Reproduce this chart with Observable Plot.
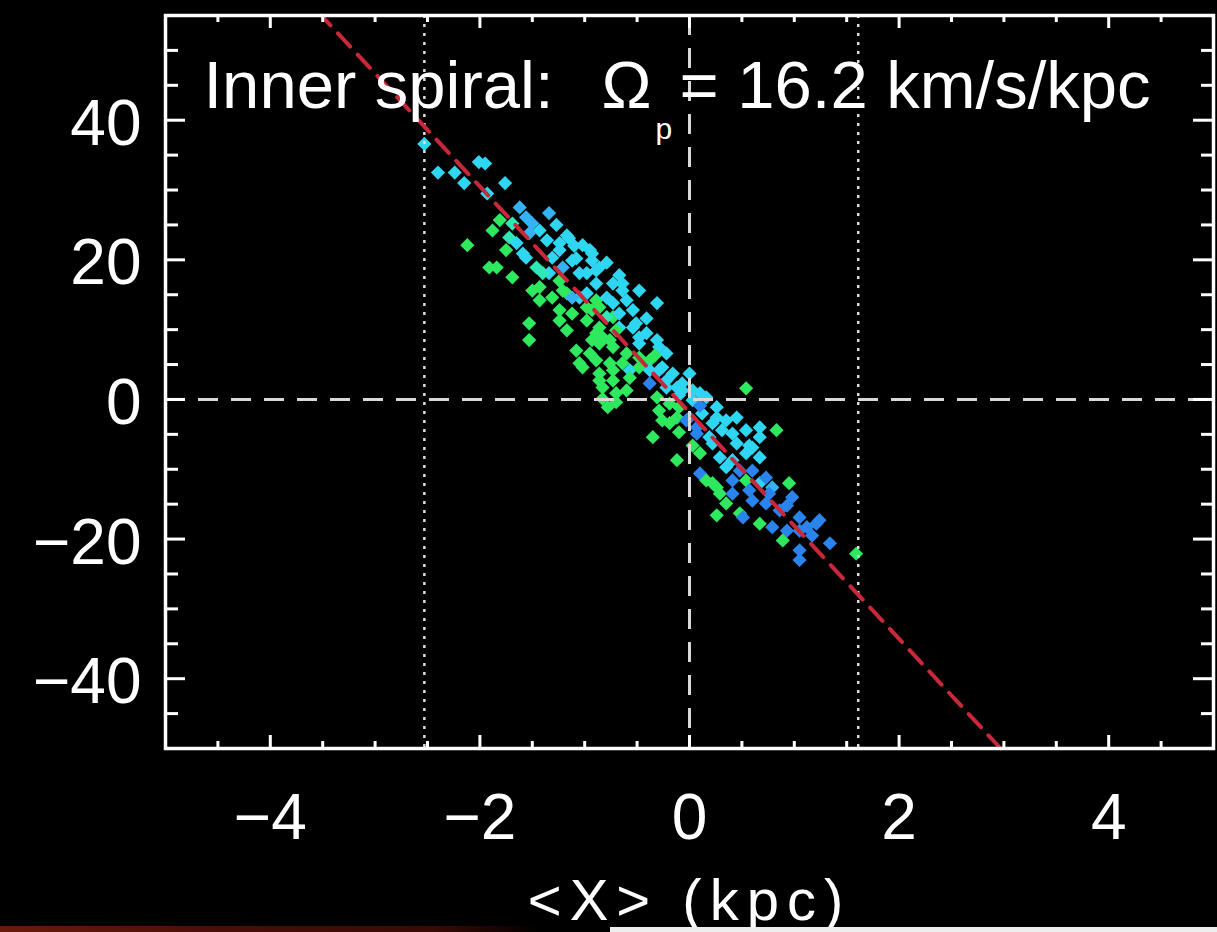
<!DOCTYPE html>
<html>
<head>
<meta charset="utf-8">
<script src="https://cdn.jsdelivr.net/npm/d3@7"></script>
<script src="https://cdn.jsdelivr.net/npm/@observablehq/plot@0.6"></script>
<style>
html, body { margin: 0; padding: 0; background: #000; overflow: hidden; }
#chart { position: relative; width: 1217px; height: 932px; }
.artifact { position: absolute; }
</style>
</head>
<body>
<div id="chart"></div>
<script>
// ---- data ----
const xs = [
  -2.53, -2.40, -2.24, -2.15, -2.01, -1.95, -1.76, -1.93, -1.62, -1.34,
  -1.56, -1.50, -1.81, -1.88, -2.12, -1.72, -1.75, -1.65, -1.43, -1.36,
  -1.24, -1.56, -1.91, -1.84, -1.69, -1.46, -1.34, -1.21, -1.12, -0.93,
  -0.98, -0.86, -0.73, -0.64, -0.31, -1.43, -1.31, -1.17, -1.05, -0.98,
  -0.86, -0.73, -0.60, -1.53, -1.53, -1.12, -0.98, -0.86, -0.73, -0.67,
  -0.54, -0.41, -0.29, -1.08, -0.95, -0.86, -0.73, -0.60, -1.02, -0.86,
  -0.73, -0.57, -0.38, -0.48, -0.29, -0.16, -0.83, -0.60, -0.22, 0.00,
  -0.93, -0.83, -0.48, -0.31, -0.33, -0.38, -1.05, -0.57, -0.26, -0.70,
  -0.83, -0.70, -0.22, -0.12, 0.03, 0.54, -0.31, -0.19, -0.29, -0.12,
  0.03, 0.16, 0.26, 0.12, -0.03, -0.19, 0.07, 0.22, 0.35, 0.41,
  0.54, 0.67, 0.83, -0.35, -0.12, 0.10, 0.10, 0.22, 0.29, 0.41,
  0.54, 0.67, 0.16, 0.26, 0.41, 0.54, 0.67, 0.79, 0.95, 0.35,
  0.26, 0.48, 0.60, 0.73, 0.86, 0.98, 1.05, 1.12, 0.67, 0.79,
  0.93, 1.24, 1.34, 0.89, 1.05, 1.05, 1.59, 0.76, 1.21, 1.05,
  0.51, 0.22, 0.29, 0.41, 0.57, 0.60, 0.73, -1.69, -1.53, -1.59,
  -1.24, -1.31, -0.95, -0.93, -1.40, -1.05, -0.89, -0.89, -0.64, -1.50,
  -1.21, -1.43, -1.12, -0.98, -0.89, -0.79, -1.24, -0.93, -0.79, -0.67,
  -0.51, -0.48, -0.22, -0.89, -0.76, -0.89, -0.76, -0.64, -0.38, -0.86,
  -0.73, -0.07, -0.07, 0.10, -0.10, 0.00, 0.26, 0.67, 0.07, 0.19,
  0.45, 0.60, -1.27, -1.17, -1.10, -1.15, -1.02, -1.08, -0.79, -0.67,
  -0.48, -0.54, -0.41, -1.24, -1.17, -1.24, -0.70, -0.48, -0.78, -0.10,
  0.10, 0.31, 0.45, 0.57, 0.35, 0.48, 0.93, 1.17, 0.03, -0.26,
  -0.10
];
const ys = [
  36.6, 32.5, 32.5, 31.0, 34.0, 33.8, 31.0, 29.5, 27.5, 26.7,
  26.1, 25.2, 25.7, 24.2, 22.1, 23.2, 21.4, 22.4, 24.2, 22.8,
  21.4, 20.3, 18.9, 18.9, 17.5, 18.9, 18.1, 18.9, 19.9, 20.9,
  18.1, 18.9, 16.6, 16.6, 13.8, 16.1, 14.6, 15.2, 14.6, 13.2,
  13.2, 13.8, 14.2, 10.9, 8.5, 12.3, 11.3, 10.3, 11.8, 10.3,
  10.3, 9.5, 7.5, 7.0, 6.6, 8.0, 7.5, 6.6, 4.6, 3.7,
  4.2, 4.2, 2.3, 4.6, 4.2, 3.7, 1.7, 1.3, 1.7, 3.7,
  8.5, 8.9, 8.0, 8.5, 6.3, 5.6, 5.2, 3.1, 4.6, 0.9,
  0.1, -0.4, 2.7, 1.7, 1.3, 1.6, 0.3, -0.6, -1.6, -2.6,
  -0.1, 0.3, -1.1, -2.0, -3.0, -3.4, -4.0, -3.4, -3.0, -4.9,
  -4.4, -5.4, -4.4, -5.4, -8.7, -7.7, -10.6, -6.3, -8.3, -8.7,
  -7.7, -8.3, -11.6, -12.6, -11.6, -11.6, -12.0, -12.6, -12.0, -14.9,
  -16.6, -16.3, -14.5, -14.9, -15.9, -14.0, -16.9, -18.3, -17.8, -18.3,
  -18.8, -17.3, -20.6, -20.2, -21.6, -23.0, -22.1, -13.5, -17.8, -18.8,
  -16.9, -12.0, -13.5, -13.5, -13.0, -10.2, -11.2, 25.2, 23.8, 20.9,
  22.4, 20.3, 21.4, 19.9, 18.1, 18.1, 18.5, 16.6, 15.6, 15.6,
  15.6, 14.2, 14.6, 15.2, 14.2, 14.6, 12.8, 12.8, 11.8, 12.3,
  10.9, 8.9, 6.6, 9.5, 8.5, 5.6, 5.2, 5.2, 4.2, 2.7,
  2.7, 2.3, 1.3, 0.9, -1.1, -2.6, -2.6, -4.0, -4.9, -5.4,
  -6.3, -6.9, 25.0, 23.5, 22.0, 23.1, 22.1, 20.2, 19.6, 17.8,
  15.6, 12.8, 11.6, 17.0, 9.9, 11.3, 9.9, 6.0, -1.1, 0.6,
  -0.9, -4.4, -2.6, -6.6, -9.7, -10.2, -15.2, -19.5, -6.6, -3.0,
  -4.7
];
// colour class of each point: g green, t teal, c cyan, l light blue, b blue
const cs = [
  "c","c","c","c","c","c","c","c","l","l",
  "l","l","g","g","g","t","g","c","c","c",
  "c","c","g","g","g","t","c","l","c","c",
  "c","c","c","c","c","g","g","g","c","g",
  "g","c","c","g","g","g","g","g","g","c",
  "c","c","c","g","g","g","g","g","g","g",
  "g","c","b","g","c","c","g","g","c","c",
  "g","g","c","c","g","g","g","g","c","g",
  "g","g","c","c","c","g","g","g","g","g",
  "c","c","c","c","b","g","b","c","c","c",
  "c","c","g","g","g","g","b","c","c","c",
  "c","c","g","g","b","g","c","l","g","g",
  "g","g","b","b","b","b","b","b","g","b",
  "b","b","b","g","b","b","g","b","b","b",
  "b","g","g","b","b","b","b","t","l","c",
  "c","c","c","c","t","c","c","c","c","g",
  "g","g","l","c","g","c","g","g","t","c",
  "c","c","c","g","g","g","g","g","c","g",
  "g","c","c","c","g","b","c","c","b","c",
  "c","c","c","c","c","c","c","c","c","c",
  "c","c","c","g","g","g","g","g","g","c",
  "b","c","c","c","c","b","b","b","g","g",
  "g"
];
const colorClasses = ["g", "t", "c", "l", "b"];
const colorValues  = ["#2ee85e", "#2ee8b6", "#2ed6f2", "#34b2f6", "#2a84ee"];

// pattern-speed fit:  y = slope * x + intercept   (Ω_p = 16.2 km/s/kpc)
const fitSlope = -16.2;
const fitIntercept = -1.9;
const radiusLines = [-2.53, 1.61];
const zeroLines = [0];

const xDomain = [-5, 5];
const yDomain = [-50, 55];
const xMajorTicks = [-4, -2, 0, 2, 4];
const xMinorTicks = [-4.5, -3.5, -3, -2.5, -1.5, -1, -0.5, 0.5, 1, 1.5, 2.5, 3, 3.5, 4.5];
const yMajorTicks = [-40, -20, 0, 20, 40];
const yMinorTicks = [-45, -35, -30, -25, -15, -10, -5, 5, 10, 15, 25, 30, 35, 45, 50];

const titleMain = "Inner spiral:";
const titleOmega = "\u03a9";
const titleSub = "p";
const titleRest = "= 16.2 km/s/kpc";
const xLabel = "<X> (kpc)";

// ---- build ----
const n = Math.min(xs.length, ys.length, cs.length);
const points = d3.range(n).map(i => ({x: xs[i], y: ys[i], c: cs[i]}));
const fitLine = yDomain.map(y => ({x: (y - fitIntercept) / fitSlope, y}));

const W = 1217, H = 932, mL = 165, mR = 4, mT = 15, mB = 184;
const iW = W - mL - mR, iH = H - mT - mB;
const font = "'Liberation Sans', Arial, Helvetica, sans-serif";
const titleStyle = {frameAnchor: "top-left", textAnchor: "start", lineAnchor: "top", fill: "#fff"};

const chart = Plot.plot({
  width: W, height: H,
  marginLeft: mL, marginRight: mR, marginTop: mT, marginBottom: mB,
  style: {background: "#000", color: "#fff", fontFamily: font},
  x: {domain: xDomain, label: null},
  y: {domain: yDomain, label: null},
  color: {type: "ordinal", domain: colorClasses, range: colorValues},
  marks: [
    Plot.dot(points, {x: "x", y: "y", fill: "c", symbol: "diamond2", r: 6.4}),
    Plot.ruleX(zeroLines, {x: d => d, stroke: "#d8d8d8", strokeWidth: 3, strokeDasharray: "20,13"}),
    Plot.ruleY(zeroLines, {y: d => d, stroke: "#d8d8d8", strokeWidth: 3, strokeDasharray: "20,13"}),
    Plot.ruleX(radiusLines, {x: d => d, stroke: "#dddddd", strokeWidth: 2.5, strokeDasharray: "3,6"}),
    Plot.line(fitLine, {x: "x", y: "y", stroke: "#c8283a", strokeWidth: 4, strokeDasharray: "18,11"}),
    // ticks on all four sides, pointing inwards
    Plot.tickX(xMajorTicks, {x: d => d, stroke: "#fff", strokeWidth: 3, insetTop: iH - 13}),
    Plot.tickX(xMinorTicks, {x: d => d, stroke: "#fff", strokeWidth: 3, insetTop: iH - 7}),
    Plot.tickX(xMajorTicks, {x: d => d, stroke: "#fff", strokeWidth: 3, insetBottom: iH - 13}),
    Plot.tickX(xMinorTicks, {x: d => d, stroke: "#fff", strokeWidth: 3, insetBottom: iH - 7}),
    Plot.tickY(yMajorTicks, {y: d => d, stroke: "#fff", strokeWidth: 3, insetRight: iW - 20}),
    Plot.tickY(yMinorTicks, {y: d => d, stroke: "#fff", strokeWidth: 3, insetRight: iW - 13}),
    Plot.tickY(yMajorTicks, {y: d => d, stroke: "#fff", strokeWidth: 3, insetLeft: iW - 20}),
    Plot.tickY(yMinorTicks, {y: d => d, stroke: "#fff", strokeWidth: 3, insetLeft: iW - 12}),
    Plot.frame({stroke: "#fff", strokeWidth: 3.5}),
    Plot.axisX(xMajorTicks, {anchor: "bottom", tickSize: 0, tickPadding: 45, fontSize: 64, label: null}),
    Plot.axisY(yMajorTicks, {anchor: "left", tickSize: 0, tickPadding: 24, fontSize: 64, label: null, dy: 4}),
    Plot.text([titleMain], {...titleStyle, text: d => d, dx: 38, dy: 45, fontSize: 67}),
    Plot.text([titleOmega], {...titleStyle, text: d => d, dx: 436, dy: 45, fontSize: 67}),
    Plot.text([titleSub], {...titleStyle, text: d => d, dx: 490, dy: 102, fontSize: 30}),
    Plot.text([titleRest], {...titleStyle, text: d => d, dx: 514, dy: 45, fontSize: 67}),
    Plot.text([xLabel], {text: d => d, frameAnchor: "bottom", textAnchor: "middle", lineAnchor: "top", dy: 130, fontSize: 58, fill: "#fff"})
  ]
});

d3.select(chart).selectAll("text")
  .filter(function() { return this.textContent === xLabel; })
  .attr("letter-spacing", "8px");

const host = document.getElementById("chart");
host.appendChild(chart);

// video-frame artefacts along the bottom edge of the reference picture
const strip = document.createElement("div");
strip.className = "artifact";
Object.assign(strip.style, {left: "0px", top: "926px", width: "540px", height: "6px",
  background: "linear-gradient(90deg, #6a1a0c, #4a0e08 40%, #3a0a06 80%, #000)"});
host.appendChild(strip);
const bar = document.createElement("div");
bar.className = "artifact";
Object.assign(bar.style, {left: "610px", top: "927px", width: "607px", height: "5px", background: "#eeeeee"});
host.appendChild(bar);
</script>
</body>
</html>
